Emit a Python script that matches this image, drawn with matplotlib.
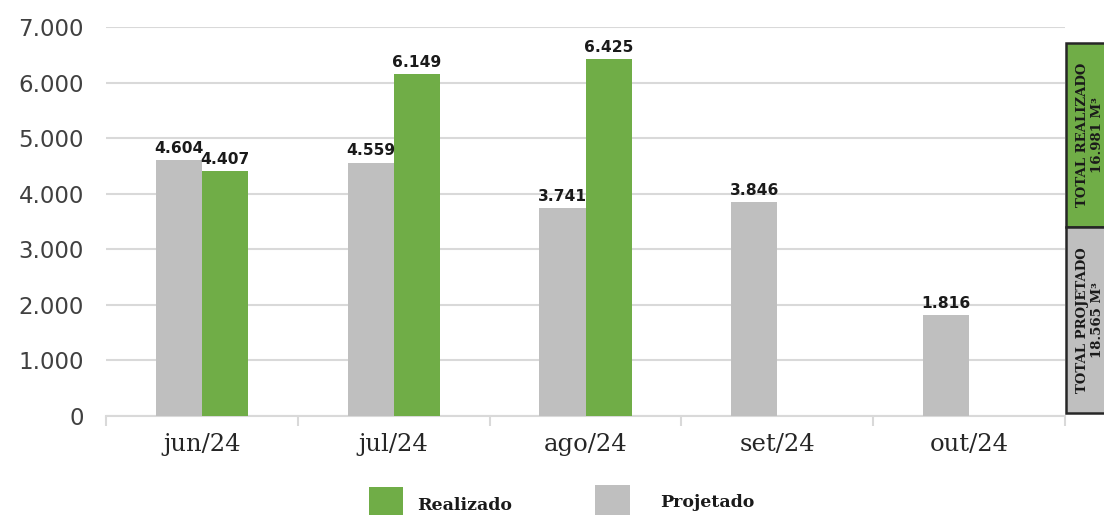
import matplotlib
matplotlib.use("Agg")
import matplotlib.pyplot as plt
from matplotlib.patches import Rectangle
import numpy as np

# Monthly volumes (thousand units shown with Brazilian separators)
months = ["jun/24", "jul/24", "ago/24", "set/24", "out/24"]
projetado = [4604, 4559, 3741, 3846, 1816]
realizado = [4407, 6149, 6425, None, None]
yticks = [0, 1000, 2000, 3000, 4000, 5000, 6000, 7000]
total_realizado_label = ["TOTAL REALIZADO", "16.981 M³"]
total_projetado_label = ["TOTAL PROJETADO", "18.565 M³"]

GREEN = "#70AD47"
GRAY = "#BFBFBF"
GRID = "#D9D9D9"


def br(v):
    return f"{v:,.0f}".replace(",", ".")


fig = plt.figure(figsize=(11.04, 5.15), dpi=100)
W, H = 1104, 515
ax = fig.add_axes([106 / W, 1 - 416 / H, (1065 - 106) / W, (416 - 27) / H])

x = np.arange(len(months))
bw = 0.24

proj_bars = ax.bar(x - bw / 2, projetado, width=bw, color=GRAY, zorder=3)
r_idx = [i for i, v in enumerate(realizado) if v is not None]
r_vals = [realizado[i] for i in r_idx]
real_bars = ax.bar(x[r_idx] + bw / 2, r_vals, width=bw, color=GREEN, zorder=3)

for bars, vals in ((proj_bars, projetado), (real_bars, r_vals)):
    for b, v in zip(bars, vals):
        ax.annotate(br(v), (b.get_x() + b.get_width() / 2, v),
                    xytext=(0, 3), textcoords="offset points",
                    ha="center", va="bottom", fontsize=11.2,
                    fontweight="bold", color="#1a1a1a",
                    family="DejaVu Sans", zorder=4)

ax.set_xlim(-0.5, len(months) - 0.5)
ax.set_ylim(0, 7000)
ax.set_yticks(yticks)
ax.set_yticklabels([br(v) for v in yticks], fontsize=16.5, color="#404040",
                   family="DejaVu Sans")
ax.tick_params(axis="y", length=0, pad=16)
ax.yaxis.grid(True, color=GRID, linewidth=1.5, zorder=0)
ax.set_axisbelow(True)

ax.set_xticks(x)
ax.set_xticklabels(months, fontsize=17.5, color="#262626", family="DejaVu Serif")
ax.set_xticks(np.arange(-0.5, len(months)), minor=True)
ax.tick_params(axis="x", which="major", length=0, pad=12)
ax.tick_params(axis="x", which="minor", length=7, color=GRID, width=1.5)

for side in ("top", "right", "left"):
    ax.spines[side].set_visible(False)
ax.spines["bottom"].set_color(GRID)
ax.spines["bottom"].set_linewidth(1.5)

# Totals panel on the right edge
def panel(y_top, y_bot, color, lines):
    fig.add_artist(Rectangle((1066 / W, 1 - y_bot / H), (1110 - 1066) / W,
                             (y_bot - y_top) / H, transform=fig.transFigure,
                             facecolor=color, edgecolor="#262626",
                             linewidth=1.8, clip_on=False))
    fig.text(1090 / W, 1 - (y_top + y_bot) / 2 / H, "\n".join(lines),
             rotation=90, ha="center", va="center", multialignment="center",
             fontsize=9.5, fontweight="bold", family="DejaVu Serif",
             color="#1a1a1a", linespacing=1.15)

panel(43, 227, GREEN, total_realizado_label)
panel(227, 413, GRAY, total_projetado_label)

# Legend drawn along the bottom edge
fig.add_artist(Rectangle((369 / W, 1 - 520 / H), 34 / W, 33 / H,
                         transform=fig.transFigure, facecolor=GREEN,
                         edgecolor="none", clip_on=False))
fig.text(417 / W, 1 - 510 / H, "Realizado", fontsize=12.5, fontweight="bold",
         family="DejaVu Serif", color="#1a1a1a", ha="left", va="baseline")
fig.add_artist(Rectangle((595 / W, 1 - 520 / H), 35 / W, 35 / H,
                         transform=fig.transFigure, facecolor=GRAY,
                         edgecolor="none", clip_on=False))
fig.text(660 / W, 1 - 507 / H, "Projetado", fontsize=12.5, fontweight="bold",
         family="DejaVu Serif", color="#1a1a1a", ha="left", va="baseline")

fig.savefig("out.png", dpi=100)
